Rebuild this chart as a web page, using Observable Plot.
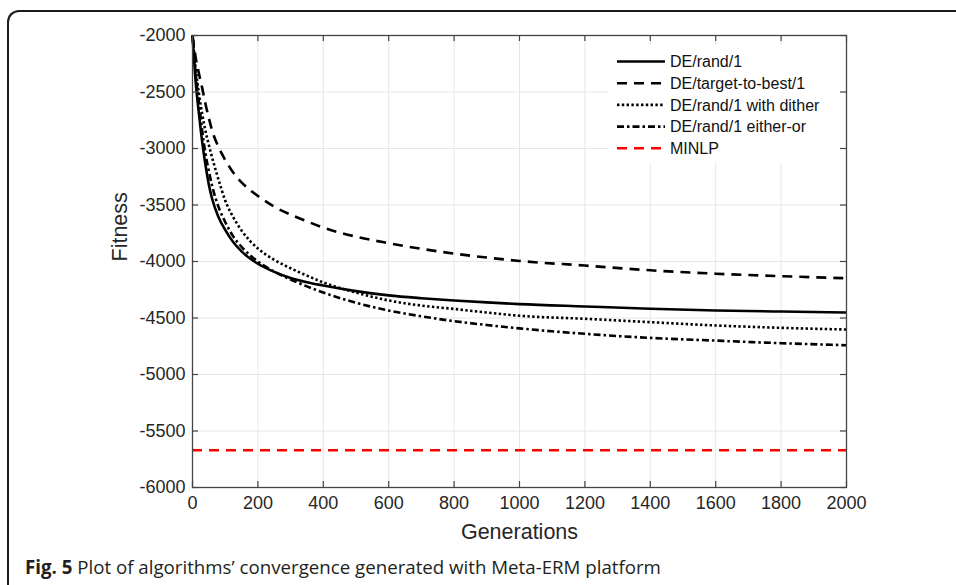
<!DOCTYPE html>
<html><head><meta charset="utf-8">
<script src="https://cdn.jsdelivr.net/npm/d3@7"></script>
<script src="https://cdn.jsdelivr.net/npm/@observablehq/plot@0.6"></script>
<style>
body{margin:0;background:#fff;}
#wrap{position:relative;width:956px;height:585px;overflow:hidden;background:#fff;}
#border{position:absolute;left:7px;top:10px;width:980px;height:620px;border-top:2px solid #1a1a1a;border-left:2px solid #1a1a1a;border-top-left-radius:12px;}
#chart{position:absolute;left:0;top:0;}
#legend{position:absolute;left:608px;top:45px;}
#caption{position:absolute;left:25px;top:554px;font-family:"Open Sans";font-size:18.7px;color:#231f20;white-space:nowrap;line-height:26px;}
</style>
</head><body>
<div id="wrap">
<div id="border"></div>
<div id="chart"></div>
<div id="legend"></div>
<div id="caption"><b>Fig. 5</b> Plot of algorithms’ convergence generated with Meta-ERM platform</div>
</div>
<script>
// ---- data ----
const generations      = [0, 10, 20, 30, 40, 50, 60, 80, 100, 125, 150, 175, 200, 250, 300, 350, 400, 500, 600, 700, 800, 900, 1000, 1200, 1400, 1600, 1800, 2000];
const deRand1          = [-2000, -2420, -2700, -2950, -3150, -3320, -3445, -3610, -3720, -3830, -3910, -3972, -4020, -4092, -4145, -4183, -4212, -4262, -4300, -4325, -4345, -4362, -4377, -4398, -4418, -4433, -4443, -4451];
const deTargetToBest1  = [-2000, -2200, -2340, -2470, -2610, -2730, -2840, -2990, -3100, -3215, -3300, -3365, -3420, -3515, -3585, -3645, -3700, -3780, -3838, -3888, -3930, -3965, -3995, -4036, -4078, -4108, -4130, -4148];
const deRand1Dither    = [-2000, -2300, -2520, -2700, -2850, -2970, -3080, -3280, -3460, -3610, -3725, -3815, -3885, -3985, -4060, -4125, -4185, -4275, -4345, -4390, -4420, -4452, -4480, -4507, -4537, -4566, -4587, -4602];
const deRand1EitherOr  = [-2000, -2350, -2600, -2850, -3050, -3200, -3330, -3520, -3650, -3780, -3870, -3942, -4000, -4090, -4160, -4220, -4275, -4365, -4434, -4485, -4528, -4562, -4592, -4640, -4676, -4700, -4723, -4741];
const minlpValue       = -5670;
const seriesNames      = ["DE/rand/1", "DE/target-to-best/1", "DE/rand/1 with dither", "DE/rand/1 either-or", "MINLP"];
const xTicks           = [0, 200, 400, 600, 800, 1000, 1200, 1400, 1600, 1800, 2000];
const yTicks           = [-6000, -5500, -5000, -4500, -4000, -3500, -3000, -2500, -2000];
const xLabel           = "Generations";
const yLabel           = "Fitness";

// ---- styles ----
const styles = [
  {stroke: "#000", dash: null},
  {stroke: "#000", dash: "10,7"},
  {stroke: "#000", dash: "2.4,2.4"},
  {stroke: "#000", dash: "7,3,2.5,3"},
  {stroke: "#ff0000", dash: "10,7"}
];
const seriesValues = [deRand1, deTargetToBest1, deRand1Dither, deRand1EitherOr];
const xDomain = [0, 2000], yDomain = [-6000, -2000];
const W = 956, H = 550, mL = 192, mR = 110, mT = 35, mB = 63;
const tickPx = 6;
const tickLenY = (yDomain[1] - yDomain[0]) / (H - mT - mB) * tickPx;
const tickLenX = (xDomain[1] - xDomain[0]) / (W - mL - mR) * tickPx;
const axisColor = "#444";
const font = "'Liberation Sans', Arial, sans-serif";

const lineMarks = seriesValues.map((vals, k) =>
  Plot.line(generations.map((g, i) => ({g, v: vals[i]})), {
    x: "g", y: "v", stroke: styles[k].stroke, strokeWidth: 2.6,
    strokeDasharray: styles[k].dash, strokeLinecap: "butt", curve: "monotone-x"
  })
);

const chart = Plot.plot({
  width: W, height: H,
  marginLeft: mL, marginRight: mR, marginTop: mT, marginBottom: mB,
  style: {fontFamily: font, background: "transparent", color: "#262626"},
  x: {domain: xDomain},
  y: {domain: yDomain},
  marks: [
    Plot.gridX(xTicks, {stroke: "#e6e6e6", strokeOpacity: 1}),
    Plot.gridY(yTicks, {stroke: "#e6e6e6", strokeOpacity: 1}),
    Plot.ruleY([minlpValue], {stroke: styles[4].stroke, strokeWidth: 2.6, strokeDasharray: styles[4].dash, strokeLinecap: "butt"}),
    ...lineMarks,
    Plot.frame({stroke: axisColor, strokeWidth: 1.3}),
    // inward MATLAB-style ticks on all four sides
    Plot.ruleX(xTicks, {x: d => d, y1: yDomain[0], y2: yDomain[0] + tickLenY, stroke: axisColor, strokeWidth: 1.2}),
    Plot.ruleX(xTicks, {x: d => d, y1: yDomain[1], y2: yDomain[1] - tickLenY, stroke: axisColor, strokeWidth: 1.2}),
    Plot.ruleY(yTicks, {y: d => d, x1: xDomain[0], x2: xDomain[0] + tickLenX, stroke: axisColor, strokeWidth: 1.2}),
    Plot.ruleY(yTicks, {y: d => d, x1: xDomain[1], x2: xDomain[1] - tickLenX, stroke: axisColor, strokeWidth: 1.2}),
    Plot.axisX(xTicks, {tickSize: 0, tickPadding: 9, fontSize: 18, fill: "#262626", tickFormat: d => String(d), label: null}),
    Plot.axisY(yTicks, {tickSize: 0, tickPadding: 7, fontSize: 18, fill: "#262626", tickFormat: d => String(d), label: null}),
    Plot.text([xLabel], {frameAnchor: "bottom", text: d => d, dy: 51, fontSize: 21.5, fill: "#262626"}),
    Plot.text([yLabel], {frameAnchor: "left", text: d => d, rotate: -90, dx: -72, fontSize: 21.5, fill: "#262626"})
  ]
});
document.getElementById("chart").appendChild(chart);

// ---- legend ----
const lw = 232, lh = 118;
const lg = d3.select("#legend").append("svg").attr("width", lw).attr("height", lh);
lg.append("rect").attr("width", lw).attr("height", lh).attr("fill", "#fff");
seriesNames.forEach((name, i) => {
  const y = 16.5 + i * 21.7;
  lg.append("line").attr("x1", 9).attr("x2", 57).attr("y1", y).attr("y2", y)
    .attr("stroke", styles[i].stroke).attr("stroke-width", 2.6)
    .attr("stroke-dasharray", styles[i].dash);
  lg.append("text").attr("x", 62).attr("y", y).attr("dy", "0.36em")
    .attr("font-family", font).attr("font-size", 16).attr("fill", "#111").text(name);
});
</script>
</body></html>
